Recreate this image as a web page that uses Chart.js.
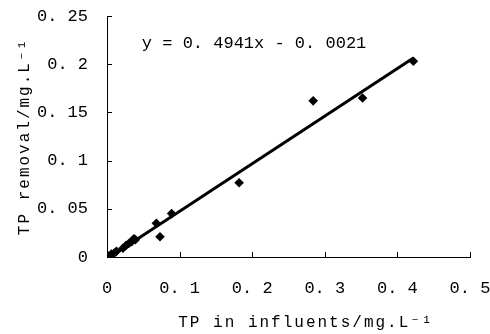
<!DOCTYPE html>
<html>
<head>
<meta charset="utf-8">
<script src="https://cdn.jsdelivr.net/npm/chart.js@4/dist/chart.umd.min.js"></script>
<style>
  html, body { margin: 0; padding: 0; background: #fff; }
  #wrap { width: 490px; height: 334px; }
</style>
</head>
<body>
<div id="wrap"><canvas id="tpChart"></canvas></div>
<script>
// --- Data ---
const influentTP = [0.002, 0.006, 0.010, 0.013, 0.022, 0.026, 0.030, 0.034, 0.037, 0.039, 0.068, 0.073, 0.089, 0.182, 0.284, 0.352, 0.422];
const removedTP  = [0.001, 0.003, 0.004, 0.006, 0.009, 0.012, 0.014, 0.016, 0.019, 0.018, 0.035, 0.021, 0.045, 0.077, 0.162, 0.165, 0.203];

// trend line end points (as drawn)
const trendX = [0.002, 0.422];
const trendY = [-0.001, 0.2064];

const xTicks = [0, 0.1, 0.2, 0.3, 0.4, 0.5];
const yTicks = [0, 0.05, 0.1, 0.15, 0.2, 0.25];

const equationText = 'y = 0. 4941x - 0. 0021';
const xTitle = '\u00a0\u00a0\u00a0TP in influents/mg.L\u207b\u00b9';
const yTitle = 'TP removal/mg.L\u207b\u00b9';

const FONT = '"Liberation Mono", "DejaVu Sans Mono", monospace';

// tick label like "0. 25"
function fmtTick(v) {
    if (v === 0) return '0';
    const s = String(Math.round(v * 100) / 100);
    return s.replace('.', '. ');
}

const points = influentTP.map((x, i) => ({ x: x, y: removedTP[i] }));
const trend = trendX.map((x, i) => ({ x: x, y: trendY[i] }));

// wide letter spacing for axis titles only (drawn before datasets)
const spacingPlugin = {
    id: 'spacing',
    beforeDraw(chart) { chart.ctx.letterSpacing = '2px'; },
    beforeDatasetsDraw(chart) { chart.ctx.letterSpacing = '0px'; }
};

// inward tick marks at the scale's tick values
const innerTicksPlugin = {
    id: 'innerTicks',
    afterDraw(chart) {
        const ctx = chart.ctx;
        const xs = chart.scales.x, ys = chart.scales.y;
        const area = chart.chartArea;
        ctx.save();
        ctx.strokeStyle = '#000';
        ctx.lineWidth = 1;
        ctx.beginPath();
        xTicks.forEach(v => {
            const px = Math.round(xs.getPixelForValue(v)) + 0.5;
            ctx.moveTo(px, area.bottom);
            ctx.lineTo(px, area.bottom - 5);
        });
        yTicks.forEach(v => {
            const py = Math.round(ys.getPixelForValue(v)) + 0.5;
            ctx.moveTo(area.left, py);
            ctx.lineTo(area.left + 5, py);
        });
        ctx.stroke();
        ctx.restore();
    }
};

// regression equation inside the plot
const equationPlugin = {
    id: 'equation',
    afterDraw(chart) {
        const ctx = chart.ctx;
        const xs = chart.scales.x, ys = chart.scales.y;
        ctx.save();
        ctx.letterSpacing = '0px';
        ctx.font = '17px ' + FONT;
        ctx.fillStyle = '#000';
        ctx.textAlign = 'left';
        ctx.textBaseline = 'middle';
        ctx.fillText(equationText, xs.getPixelForValue(0.048), ys.getPixelForValue(0.221));
        ctx.restore();
    }
};

new Chart(document.getElementById('tpChart'), {
    type: 'scatter',
    data: {
        datasets: [
            {
                type: 'line',
                data: trend,
                borderColor: '#000',
                borderWidth: 3,
                pointRadius: 0,
                fill: false,
                order: 2
            },
            {
                data: points,
                backgroundColor: '#000',
                borderColor: '#000',
                pointStyle: 'rectRot',
                pointRadius: 4.8,
                borderWidth: 0,
                order: 1
            }
        ]
    },
    options: {
        responsive: true,
        maintainAspectRatio: false,
        animation: false,
        layout: { padding: { top: 16, right: 20, bottom: 0, left: 0 } },
        plugins: {
            legend: { display: false },
            tooltip: { enabled: false }
        },
        scales: {
            x: {
                type: 'linear',
                min: 0,
                max: 0.5,
                afterBuildTicks: (s) => { s.ticks = xTicks.map(v => ({ value: v })); },
                afterFit: (s) => { s.height = 77; s.paddingLeft = 0; s.paddingRight = 0; },
                grid: { drawOnChartArea: false, drawTicks: false },
                border: { color: '#000', width: 1 },
                ticks: {
                    z: 1,
                    padding: 21,
                    color: '#000',
                    font: { family: FONT, size: 17 },
                    callback: (v) => fmtTick(v)
                },
                title: {
                    display: true,
                    text: xTitle,
                    color: '#000',
                    font: { family: FONT, size: 16 },
                    padding: { top: 0, bottom: 2 }
                }
            },
            y: {
                type: 'linear',
                min: 0,
                max: 0.25,
                afterBuildTicks: (s) => { s.ticks = yTicks.map(v => ({ value: v })); },
                afterFit: (s) => { s.width = 107; s.paddingTop = 0; s.paddingBottom = 0; },
                grid: { drawOnChartArea: false, drawTicks: false },
                border: { color: '#000', width: 1 },
                ticks: {
                    z: 1,
                    padding: 19,
                    color: '#000',
                    font: { family: FONT, size: 17 },
                    callback: (v) => fmtTick(v)
                },
                title: {
                    display: true,
                    text: yTitle,
                    color: '#000',
                    font: { family: FONT, size: 16 },
                    padding: { top: 15, bottom: 0 }
                }
            }
        }
    },
    plugins: [spacingPlugin, innerTicksPlugin, equationPlugin]
});
</script>
</body>
</html>
